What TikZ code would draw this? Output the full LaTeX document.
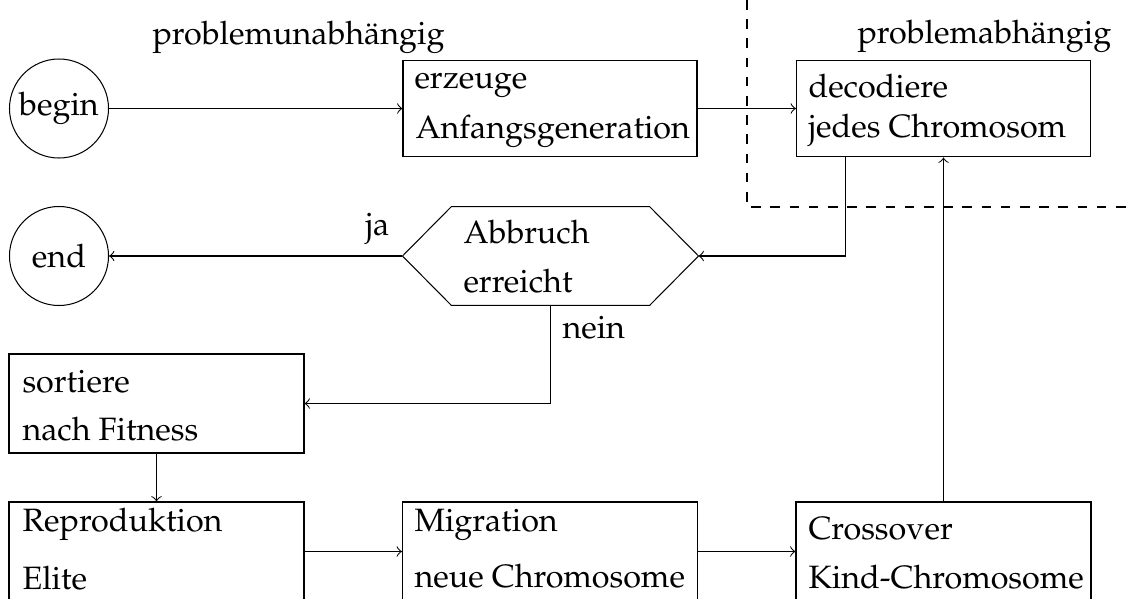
\documentclass[tikz,border=0pt]{standalone}
\usepackage[T1]{fontenc}
\usepackage{mathpazo}
\usetikzlibrary{arrows}
\begin{document}
\begin{tikzpicture}[x=0.3125pt,y=-0.3125pt,>=to,line width=0.32pt,
  every node/.style={font=\fontsize{10.1}{12}\selectfont},
  topbox/.style={draw,rectangle,minimum width=91.875pt,minimum height=30.3pt,inner sep=0pt},
  lowbox/.style={draw,rectangle,minimum width=92.19pt,minimum height=30.94pt,inner sep=0pt},
  term/.style={draw,circle,minimum size=30.94pt,inner sep=0pt},
  txt/.style={anchor=base west,inner sep=0pt}]
\clip (0,0) rectangle (1130,599);
% terminals
\node[term] (begin) at (59,108.5) {begin};
\node[term] (end) at (59,256) {end};
% top row
\node[topbox] (erzeuge) at (550,108.5) {};
\node[txt] (erzeuge1) at (414,88) {erzeuge};
\node[txt] (erzeuge2) at (415,138) {Anfangsgeneration};
\node[topbox] (decod) at (943.5,108.5) {};
\node[txt] (decod1) at (808,97) {decodiere};
\node[txt] (decod2) at (808,137) {jedes Chromosom};
% decision
\node[rectangle,minimum width=92.19pt,minimum height=30.6pt,inner sep=0pt] (hex) at (550.5,256) {};
\draw ([xshift=15.3pt]hex.south west) -- (hex.west) -- ([xshift=15.3pt]hex.north west)
  -- ([xshift=-15.3pt]hex.north east) -- (hex.east) -- ([xshift=-15.3pt]hex.south east) -- cycle;
\node[txt] (hex1) at (463,243) {Abbruch};
\node[txt] (hex2) at (463,292) {erreicht};
% lower boxes
\node[lowbox] (sort) at (156.5,403.5) {};
\node[txt] (sort1) at (22,392) {sortiere};
\node[txt] (sort2) at (22,440) {nach Fitness};
\node[lowbox] (repro) at (156.5,551.5) {};
\node[txt] (repro1) at (22,531) {Reproduktion};
\node[txt] (repro2) at (22,589) {Elite};
\node[lowbox] (migr) at (550,551.5) {};
\node[txt] (migr1) at (414,531) {Migration};
\node[txt] (migr2) at (414,587) {neue Chromosome};
\node[lowbox] (cross) at (943.5,551.5) {};
\node[txt] (cross1) at (808,539) {Crossover};
\node[txt] (cross2) at (808,588) {Kind-Chromosome};
% labels
\node[txt] (lunab) at (152,44) {problemunabh\"angig};
\node[txt] (labh) at (857,43) {problemabh\"angig};
\node[txt] (lja) at (365,235) {ja};
\node[txt] (lnein) at (562,338) {nein};
% dashed separator
\coordinate (d1) at (747,0);
\coordinate (d2) at (747,207);
\coordinate (d3) at (1130,207);
\draw[dashed] (d1) -- (d2) -- (d3);
% connectors
\draw[->] (begin) -- (erzeuge);
\draw[->] (erzeuge) -- (decod);
\draw[->] ([xshift=15.6pt]decod.south west) |- (hex.east);
\draw[->] (hex.west) -- (end);
\draw[->] (hex.south) |- (sort.east);
\draw[->] (sort) -- (repro);
\draw[->] (repro) -- (migr);
\draw[->] (migr) -- (cross);
\draw[->] (cross) -- (decod);
\end{tikzpicture}
\end{document}
